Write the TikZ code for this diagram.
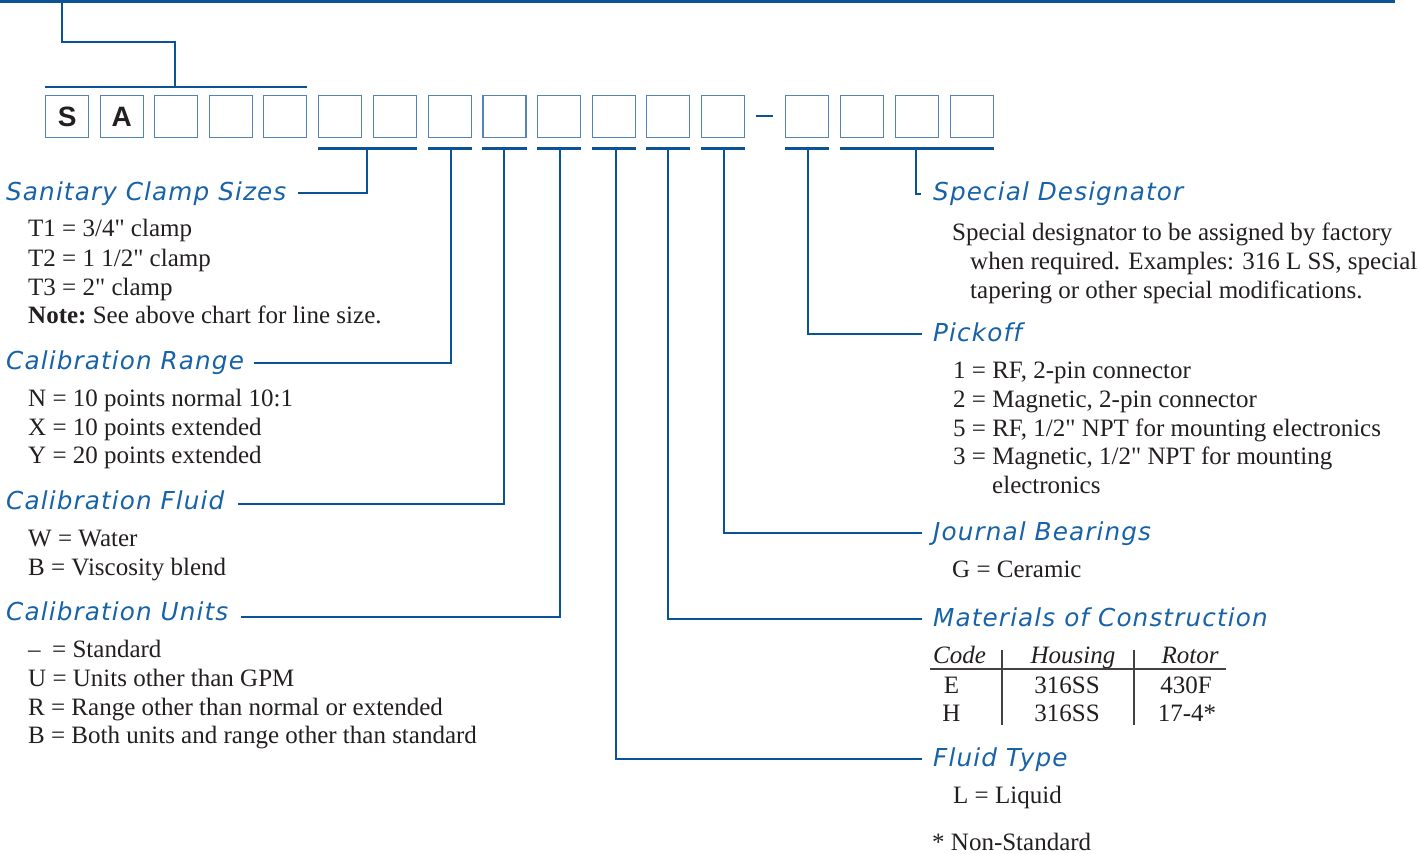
\documentclass[tikz,border=0pt]{standalone}
\usepackage{fontspec}
\setmainfont{Liberation Serif}[Ligatures=TeXOff]
\newfontfamily\headfont[LetterSpace=4.5,Ligatures=NoCommon]{DejaVu Sans}
\newfontfamily\boxfont{Liberation Sans}
\definecolor{lineblue}{RGB}{10,84,150}
\definecolor{headblue}{RGB}{24,98,168}
\definecolor{boxblue}{RGB}{84,132,182}
\definecolor{ink}{RGB}{35,31,32}
\tikzset{
  conn/.style={draw=lineblue, line width=2.7pt},
  cbox/.style={draw=boxblue, line width=1.3pt, minimum width=43pt, minimum height=42pt,
    inner sep=0pt, anchor=north west, font=\boxfont\bfseries\fontsize{28}{28}\selectfont, text=ink},
  head/.style={font=\headfont\itshape\fontsize{24.7}{30}\selectfont, text=headblue, anchor=base west, inner sep=0pt},
  body/.style={font=\fontsize{25}{29}\selectfont, text=ink, anchor=base west, inner sep=0pt},
  bodyc/.style={body, anchor=base},
  tabrule/.style={draw=ink!85, line width=1.1pt}
}
\begin{document}
\begin{tikzpicture}[x=1pt,y=-1pt]
\useasboundingbox (0,0) rectangle (1419,854);
% ---- code boxes
\foreach \i/\x in {1/45,2/99.5,3/154,4/208.5,5/263,6/318,7/372.7,8/427.5,9/482.3,10/537,11/591.5,12/646,13/701,14/785,15/840,16/894.8,17/949.5}
  {\node[cbox] (b\i) at (\x,95) {};}
\node[cbox] at (b1.north west) {S};
\node[cbox] at (b2.north west) {A};
\coordinate (d0) at (756,116); \coordinate (d1) at (773,116);
\draw[draw=lineblue, line width=2.2pt] (d0) -- (d1);
% ---- top connector
\coordinate (t0) at (0,1.5); \coordinate (t1) at (1395,1.5);
\coordinate (tA) at (62,1.5); \coordinate (tB) at (175,42); \coordinate (tC) at (175,87);
\draw[conn] (t0) -- (t1);
\draw[conn] (tA) |- (tB) -- (tC);
\draw[conn] ([yshift=8pt]b1.north west) -- ([yshift=8pt]b5.north east);
% ---- lower brackets
\draw[conn] ([yshift=-10pt]b6.south west) -- ([yshift=-10pt]b7.south east);
\foreach \i in {8,9,10,11,12,13,14}
  {\draw[conn] ([yshift=-10pt]b\i.south west) -- ([yshift=-10pt]b\i.south east);}
\draw[conn] ([yshift=-10pt]b15.south west) -- ([yshift=-10pt]b17.south east);
\coordinate (k1) at (367,147);
\coordinate (k2) at (451,147);
\coordinate (k3) at (504,147);
\coordinate (k4) at (560,147);
\coordinate (k5) at (616,147);
\coordinate (k6) at (668,147);
\coordinate (k7) at (724,147);
\coordinate (k8) at (808,147);
\coordinate (k9) at (916,147);
% ---- left column
\node[head] (h1) at (6,200) {Sanitary Clamp Sizes};
\node[body] (s1) at (28,236.7) {T1 = 3/4" clamp};
\node[body] (s2) at (28,266) {T2 = 1 1/2" clamp};
\node[body] (s3) at (28,295) {T3 = 2" clamp};
\node[body] (s4) at (28,323.5) {\textbf{Note:}\hspace{-2pt} See above chart for line size.};
\node[head] (h2) at (6,369) {Calibration Range};
\node[body] (r1) at (28,406) {N = 10 points normal 10:1};
\node[body] (r2) at (28,435) {X = 10 points extended};
\node[body] (r3) at (28,463) {Y = 20 points extended};
\node[head] (h3) at (6,509) {Calibration Fluid};
\node[body] (f1) at (28,546.7) {W = Water};
\node[body] (f2) at (28,575) {B = Viscosity blend};
\node[head] (h4) at (6,620) {Calibration Units};
\node[body] (u1) at (28,657) {\makebox[24pt][l]{–}= Standard};
\node[body] (u2) at (28,686.5) {U = Units other than GPM};
\node[body] (u3) at (28,715) {R = Range other than normal or extended};
\node[body] (u4) at (28,743.5) {B = Both units and range other than standard};
% ---- right column
\node[head] (h5) at (933,200) {Special Designator};
\node[body] (p1) at (952,240) {Special designator to be assigned by factory};
\node[body] (p2) at (970,269) {when required. Examples: 316 L SS, special};
\node[body] (p3) at (970,298) {tapering or other special modifications.};
\node[head] (h6) at (933,341.5) {Pickoff};
\node[body] (q1) at (953,378) {1 = RF, 2-pin connector};
\node[body] (q2) at (953,407) {2 = Magnetic, 2-pin connector};
\node[body] (q3) at (953,436) {5 = RF, 1/2" NPT for mounting electronics};
\node[body] (q4) at (953,464.5) {3 = Magnetic, 1/2" NPT for mounting};
\node[body] (q5) at (992,493.5) {electronics};
\node[head] (h7) at (933,540) {Journal Bearings};
\node[body] (j1) at (952,577) {G = Ceramic};
\node[head] (h8) at (933,626) {Materials of Construction};
\node[body] (m0) at (933,663) {\itshape Code};
\node[bodyc] (m1) at (1073,663) {\itshape Housing};
\node[bodyc] (m2) at (1190,663) {\itshape Rotor};
\node[bodyc] (m3) at (951.5,693) {E};
\node[bodyc] (m4) at (1067,693) {316SS};
\node[bodyc] (m5) at (1186,693) {430F};
\node[bodyc] (m6) at (951.5,721.5) {H};
\node[bodyc] (m7) at (1067,721.5) {316SS};
\node[bodyc] (m8) at (1187,721.5) {17-4*};
\coordinate (ul0) at (930,669); \coordinate (ul1) at (1226,669);
\coordinate (va0) at (1002,650); \coordinate (va1) at (1002,725);
\coordinate (vb0) at (1134,650); \coordinate (vb1) at (1134,725);
\draw[tabrule] (ul0) -- (ul1);
\draw[tabrule] (va0) -- (va1);
\draw[tabrule] (vb0) -- (vb1);
\node[head] (h9) at (933,766) {Fluid Type};
\node[body] (l1) at (953,803) {L = Liquid};
\node[body] (n1) at (932,850) {* Non-Standard};
% ---- connector ends beside the headings
\coordinate (e1) at (298,193);
\coordinate (e2) at (254,363);
\coordinate (e3) at (238,504);
\coordinate (e4) at (241,617);
\coordinate (e5) at (922,759);
\coordinate (e6) at (922,619);
\coordinate (e7) at (922,533);
\coordinate (e8) at (922,334);
\coordinate (e9) at (921,194);
% ---- connectors from brackets to headings
\draw[conn] (k1) |- (e1);
\draw[conn] (k2) |- (e2);
\draw[conn] (k3) |- (e3);
\draw[conn] (k4) |- (e4);
\draw[conn] (k5) |- (e5);
\draw[conn] (k6) |- (e6);
\draw[conn] (k7) |- (e7);
\draw[conn] (k8) |- (e8);
\draw[draw=lineblue, line width=2.2pt] (k9) |- (e9);
\end{tikzpicture}
\end{document}
